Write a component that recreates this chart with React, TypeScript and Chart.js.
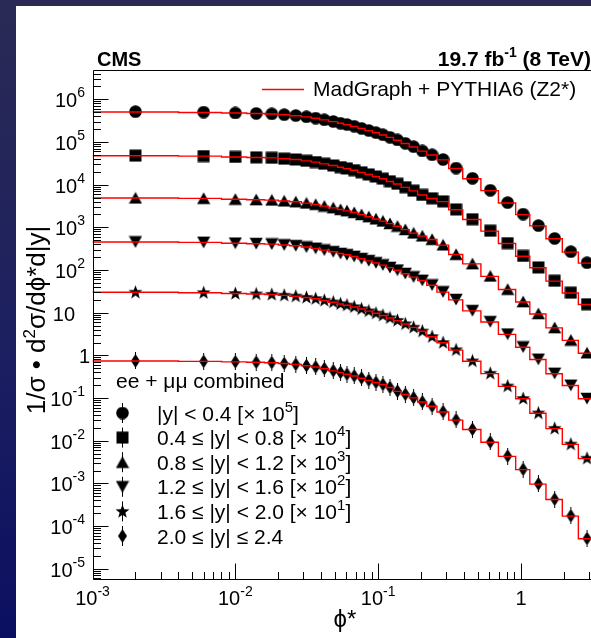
import React, { useEffect, useRef } from 'react';
import { Chart, registerables } from 'chart.js';

Chart.register(...registerables);

// phi* bin edges
const binEdges = [0, 0.004, 0.008, 0.012, 0.016, 0.020, 0.024, 0.029, 0.034, 0.039, 0.045, 0.052, 0.057, 0.064, 0.072, 0.081, 0.091, 0.102, 0.114, 0.128, 0.145, 0.165, 0.189, 0.219, 0.258, 0.312, 0.391, 0.524, 0.695, 0.918, 1.153, 1.496, 1.947, 2.522, 3.277];

// data (scaled as in the legend)
const dataY00 = [513000, 501000, 479000, 468000, 457000, 437000, 417000, 389000, 363000, 331000, 302000, 275000, 257000, 234000, 209000, 186000, 166000, 148000, 129000, 112000, 93300, 77600, 61700, 50100, 38900, 24500, 14100, 7410, 3800, 2040, 1100, 550, 269, 148];
const dataY04 = [47900, 46800, 44700, 43700, 42700, 40700, 38900, 36300, 33900, 30900, 28200, 25700, 24000, 21900, 19500, 17400, 15500, 13800, 12000, 10500, 8710, 7240, 5750, 4790, 4070, 2630, 1550, 832, 427, 214, 115, 56.2, 29.5, 15.8];
const dataY08 = [4900, 4790, 4570, 4470, 4370, 4170, 3980, 3720, 3470, 3160, 2880, 2630, 2450, 2240, 2000, 1780, 1580, 1410, 1230, 1070, 891, 741, 631, 525, 389, 234, 141, 72.4, 35.5, 18.2, 9.55, 4.47, 2.29, 1.15];
const dataY12 = [457, 447, 427, 417, 407, 389, 372, 347, 324, 295, 269, 245, 229, 209, 186, 166, 148, 132, 115, 100, 83.2, 69.2, 57.5, 44.7, 30.9, 20.4, 11.2, 6.17, 3.16, 1.58, 0.813, 0.380, 0.200, 0.0977];
const dataY16 = [30.2, 29.5, 28.2, 27.5, 26.9, 25.7, 24.5, 22.9, 21.4, 19.5, 17.8, 16.2, 15.1, 13.8, 12.3, 11.0, 9.77, 8.71, 7.59, 6.61, 5.50, 4.57, 3.72, 2.75, 2.00, 1.35, 0.741, 0.380, 0.191, 0.0977, 0.0447, 0.0195, 0.00832, 0.00389];
const dataY20 = [0.741, 0.724, 0.708, 0.692, 0.676, 0.646, 0.617, 0.575, 0.537, 0.490, 0.437, 0.398, 0.363, 0.331, 0.295, 0.263, 0.234, 0.209, 0.178, 0.145, 0.123, 0.102, 0.0813, 0.0646, 0.0479, 0.0309, 0.0186, 0.00933, 0.00437, 0.00214, 0.000977, 0.000427, 0.000174, 0.0000513];

// MadGraph + PYTHIA6 prediction
const mcY00 = [505000, 492000, 476000, 466000, 452000, 434000, 413000, 387000, 360000, 330000, 300000, 274000, 255000, 232000, 208000, 185000, 165000, 146000, 128000, 110000, 92000, 76500, 61000, 49500, 38000, 24000, 13800, 7250, 3720, 1990, 1080, 540, 262, 145];
const mcY04 = [47500, 46500, 44600, 43400, 42400, 40500, 38700, 36000, 33700, 30700, 28000, 25600, 23800, 21800, 19400, 17300, 15400, 13700, 11900, 10400, 8650, 7150, 5700, 4730, 4000, 2580, 1520, 815, 418, 210, 113, 55.0, 29.0, 15.5];
const mcY08 = [4850, 4760, 4560, 4440, 4340, 4150, 3960, 3700, 3450, 3140, 2860, 2620, 2430, 2220, 1990, 1770, 1570, 1400, 1220, 1060, 882, 733, 622, 518, 383, 230, 139, 71.0, 34.8, 17.8, 9.35, 4.40, 2.25, 1.12];
const mcY12 = [452, 445, 425, 414, 405, 386, 370, 345, 322, 293, 267, 243, 227, 207, 184, 164, 146, 130, 114, 99.0, 82.0, 68.2, 56.8, 44.0, 30.4, 20.0, 11.0, 6.05, 3.10, 1.55, 0.80, 0.372, 0.196, 0.096];
const mcY16 = [30.0, 29.3, 28.1, 27.3, 26.7, 25.5, 24.3, 22.7, 21.2, 19.3, 17.6, 16.0, 14.9, 13.6, 12.2, 10.9, 9.68, 8.62, 7.50, 6.53, 5.43, 4.52, 3.68, 2.72, 1.97, 1.33, 0.730, 0.374, 0.188, 0.0960, 0.0440, 0.0192, 0.00820, 0.00380];
const mcY20 = [0.740, 0.722, 0.705, 0.690, 0.673, 0.643, 0.614, 0.572, 0.534, 0.487, 0.434, 0.395, 0.360, 0.328, 0.292, 0.260, 0.231, 0.207, 0.176, 0.143, 0.121, 0.101, 0.0805, 0.0640, 0.0472, 0.0304, 0.0183, 0.00918, 0.00430, 0.00210, 0.000962, 0.000420, 0.000171, 0.0000505];

const markerKinds = ['circle', 'square', 'tri', 'dtri', 'star', 'diamond'];
const legendMain = ['|y| < 0.4 [\u00d7 10', '0.4 \u2264 |y| < 0.8 [\u00d7 10', '0.8 \u2264 |y| < 1.2 [\u00d7 10', '1.2 \u2264 |y| < 1.6 [\u00d7 10', '1.6 \u2264 |y| < 2.0 [\u00d7 10', '2.0 \u2264 |y| \u2264 2.4'];
const legendSup = ['5', '4', '3', '2', '1', ''];
const legendTail = [']', ']', ']', ']', ']', ''];

const xMajorExps = [-3, -2, -1, 0];
const yMajorExps = [-5, -4, -3, -2, -1, 0, 1, 2, 3, 4, 5, 6];

const X_MIN = 0.001;
const X_MAX = 3.277;
const Y_MIN = 5.75e-6;
const Y_MAX = 4.86e6;

const FONT = '"Liberation Sans", Arial, Helvetica, sans-serif';

function makeMarker(kind: string): HTMLCanvasElement {
  const c = document.createElement('canvas');
  let w = 13, h = 13;
  if (kind === 'diamond') { w = 11; h = 17; }
  if (kind === 'star') { w = 15; h = 15; }
  if (kind === 'tri' || kind === 'dtri') { w = 14; h = 13; }
  c.width = w; c.height = h;
  const g = c.getContext('2d')!;
  g.fillStyle = '#000';
  g.strokeStyle = '#000';
  g.beginPath();
  if (kind === 'circle') {
    g.arc(6.5, 6.5, 6.3, 0, Math.PI * 2);
  } else if (kind === 'square') {
    g.rect(0.5, 0.5, 12, 12);
  } else if (kind === 'tri') {
    g.moveTo(7, 0.5); g.lineTo(13.6, 12.3); g.lineTo(0.4, 12.3); g.closePath();
  } else if (kind === 'dtri') {
    g.moveTo(7, 12.5); g.lineTo(13.6, 0.7); g.lineTo(0.4, 0.7); g.closePath();
  } else if (kind === 'star') {
    for (let i = 0; i < 10; i++) {
      const a = -Math.PI / 2 + (i * Math.PI) / 5;
      const r = i % 2 === 0 ? 7.3 : 3.0;
      const px = 7.5 + r * Math.cos(a);
      const py = 7.8 + r * Math.sin(a);
      if (i === 0) g.moveTo(px, py); else g.lineTo(px, py);
    }
    g.closePath();
  } else if (kind === 'diamond') {
    g.moveTo(5.5, 1.5); g.lineTo(10, 8.5); g.lineTo(5.5, 15.5); g.lineTo(1, 8.5); g.closePath();
  }
  g.fill();
  if (kind === 'diamond') {
    g.lineWidth = 1;
    g.beginPath(); g.moveTo(5.5, 0); g.lineTo(5.5, 17); g.stroke();
  }
  return c;
}

function drawSupText(ctx: CanvasRenderingContext2D, parts: { t: string; sup?: boolean }[], x: number, y: number, align: 'left' | 'right' | 'center', mainFont: string, supFont: string, rise: number) {
  const widths = parts.map(p => { ctx.font = p.sup ? supFont : mainFont; return ctx.measureText(p.t).width; });
  const total = widths.reduce((a, b) => a + b, 0);
  let cx = align === 'left' ? x : align === 'right' ? x - total : x - total / 2;
  ctx.textAlign = 'left';
  ctx.textBaseline = 'alphabetic';
  parts.forEach((p, i) => {
    ctx.font = p.sup ? supFont : mainFont;
    ctx.fillText(p.t, cx, p.sup ? y - rise : y);
    cx += widths[i];
  });
}

export default function App() {
  const canvasRef = useRef<HTMLCanvasElement | null>(null);

  useEffect(() => {
    const canvas = canvasRef.current;
    if (!canvas) return;
    const markers = markerKinds.map(makeMarker);
    const dataSets = [dataY00, dataY04, dataY08, dataY12, dataY16, dataY20];
    const mcSets = [mcY00, mcY04, mcY08, mcY12, mcY16, mcY20];
    const centers = binEdges.slice(0, -1).map((e, i) => (e + binEdges[i + 1]) / 2);

    const mcDatasets = mcSets.map((mc) => ({
      type: 'scatter' as const,
      data: [...mc.map((v, i) => ({ x: Math.max(binEdges[i], X_MIN), y: v })), { x: binEdges[binEdges.length - 1], y: mc[mc.length - 1] }],
      showLine: true,
      stepped: 'before' as const,
      borderColor: '#ff0000',
      borderWidth: 1.4,
      pointRadius: 0,
      order: 0,
    }));
    const ptDatasets = dataSets.map((d, k) => ({
      type: 'scatter' as const,
      data: d.map((v, i) => ({ x: centers[i], y: v })),
      showLine: false,
      pointStyle: markers[k],
      pointRadius: 6,
      order: 1,
    }));

    const overlay = {
      id: 'overlay',
      afterDraw(chart: any) {
        const ctx: CanvasRenderingContext2D = chart.ctx;
        const xs = chart.scales.x;
        const ys = chart.scales.y;
        const { left, right, top, bottom } = chart.chartArea;
        ctx.save();
        ctx.strokeStyle = '#000';
        ctx.fillStyle = '#000';
        ctx.lineWidth = 1;
        // frame
        const L = Math.round(left) + 0.5, B = Math.round(bottom) + 0.5, T = Math.round(top) + 0.5;
        ctx.beginPath();
        ctx.moveTo(L, T); ctx.lineTo(L, B); ctx.lineTo(right, B);
        ctx.moveTo(L, T); ctx.lineTo(right, T);
        ctx.stroke();
        // x ticks
        ctx.beginPath();
        for (let e = -3; e <= 1; e++) {
          for (let k = 1; k <= 9; k++) {
            const v = k * Math.pow(10, e);
            if (v < X_MIN * 0.999 || v > X_MAX) continue;
            const px = Math.round(xs.getPixelForValue(v)) + 0.5;
            const len = k === 1 ? 16 : 7.5;
            ctx.moveTo(px, B); ctx.lineTo(px, B - len);
          }
        }
        // y ticks
        for (let e = -6; e <= 6; e++) {
          for (let k = 1; k <= 9; k++) {
            const v = k * Math.pow(10, e);
            if (v < Y_MIN || v > Y_MAX) continue;
            const py = Math.round(ys.getPixelForValue(v)) + 0.5;
            const len = k === 1 ? 15 : 7.5;
            ctx.moveTo(L, py); ctx.lineTo(L + len, py);
          }
        }
        ctx.stroke();

        const mainF = `20px ${FONT}`;
        const supF = `14px ${FONT}`;
        // x labels
        xMajorExps.forEach(e => {
          const px = xs.getPixelForValue(Math.pow(10, e));
          if (e === 0) drawSupText(ctx, [{ t: '1' }], px, 605, 'center', mainF, supF, 9);
          else drawSupText(ctx, [{ t: '10' }, { t: String(e), sup: true }], px, 605, 'center', mainF, supF, 9);
        });
        // y labels
        yMajorExps.forEach(e => {
          const py = ys.getPixelForValue(Math.pow(10, e)) + 8;
          if (e === 0) drawSupText(ctx, [{ t: '1' }], 90, py, 'right', mainF, supF, 10);
          else if (e === 1) drawSupText(ctx, [{ t: '10' }], 75, py, 'right', mainF, supF, 10);
          else drawSupText(ctx, [{ t: '10' }, { t: String(e), sup: true }], 85, py, 'right', mainF, supF, 10);
        });

        // axis titles
        drawSupText(ctx, [{ t: '\u03d5*' }], 345, 627, 'center', `24px ${FONT}`, supF, 0);
        ctx.save();
        ctx.translate(45, 320);
        ctx.rotate(-Math.PI / 2);
        drawSupText(ctx, [{ t: '1/\u03c3 \u2022 d' }, { t: '2', sup: true }, { t: '\u03c3/d\u03d5*d|y|' }], 0, 0, 'center', `26px ${FONT}`, `17px ${FONT}`, 10);
        ctx.restore();

        // header
        drawSupText(ctx, [{ t: 'CMS' }], 97, 66, 'left', `bold 20px ${FONT}`, supF, 0);
        drawSupText(ctx, [{ t: '19.7 fb' }, { t: '-1', sup: true }, { t: ' (8 TeV)' }], 591, 66, 'right', `bold 21px ${FONT}`, `bold 14px ${FONT}`, 9);

        // top legend
        ctx.strokeStyle = '#ff0000';
        ctx.lineWidth = 1.4;
        ctx.beginPath(); ctx.moveTo(262, 89.5); ctx.lineTo(304, 89.5); ctx.stroke();
        drawSupText(ctx, [{ t: 'MadGraph + PYTHIA6 (Z2*)' }], 313, 96, 'left', `21px ${FONT}`, supF, 0);

        // lower legend
        drawSupText(ctx, [{ t: 'ee + \u03bc\u03bc combined' }], 116, 388, 'left', `21px ${FONT}`, supF, 0);
        ctx.strokeStyle = '#000';
        ctx.lineWidth = 1;
        for (let i = 0; i < 6; i++) {
          const cy = 413 + i * 24.6;
          const m = markers[i];
          ctx.beginPath(); ctx.moveTo(122.5, cy - 10); ctx.lineTo(122.5, cy + 10); ctx.stroke();
          ctx.drawImage(m, 122.5 - m.width / 2, cy - m.height / 2);
          const parts: { t: string; sup?: boolean }[] = [{ t: legendMain[i] }];
          if (legendSup[i]) parts.push({ t: legendSup[i], sup: true });
          if (legendTail[i]) parts.push({ t: legendTail[i] });
          drawSupText(ctx, parts, 157, cy + 7.5, 'left', `21px ${FONT}`, `15px ${FONT}`, 9);
        }
        ctx.restore();
      },
    };

    const chart = new Chart(canvas, {
      type: 'scatter',
      data: { datasets: [...mcDatasets, ...ptDatasets] as any },
      options: {
        responsive: false,
        animation: false,
        events: [],
        layout: { padding: { left: 92.5, top: 70, right: 15.4, bottom: 59 } },
        plugins: { legend: { display: false }, tooltip: { enabled: false } },
        scales: {
          x: { type: 'logarithmic', min: X_MIN, max: X_MAX, display: false },
          y: { type: 'logarithmic', min: Y_MIN, max: Y_MAX, display: false },
        },
      },
      plugins: [overlay],
    });
    return () => chart.destroy();
  }, []);

  return (
    <div style={{ position: 'fixed', left: 0, top: 0, width: 591, height: 638, overflow: 'hidden', background: 'linear-gradient(to bottom, #2a2a55 0%, #1c1f60 55%, #0b0f60 100%)' }}>
      <div style={{ position: 'absolute', left: 16, top: 6, right: 0, bottom: 0, background: '#ffffff' }} />
      <canvas ref={canvasRef} width={610} height={638} style={{ position: 'absolute', left: 0, top: 0, display: 'block' }} />
    </div>
  );
}
